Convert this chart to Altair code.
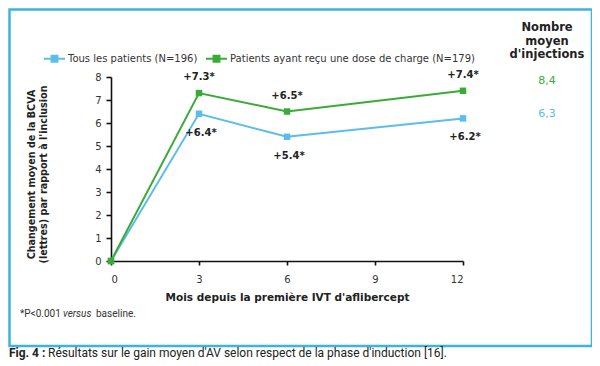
import altair as alt
import pandas as pd

# ---------------- data ----------------
months = [0, 3, 6, 12]
series_names = ["Tous les patients (N=196)",
                "Patients ayant reçu une dose de charge (N=179)"]
tous_values = [0, 6.4, 5.4, 6.2]
charge_values = [0, 7.3, 6.5, 7.4]
tous_labels = ["", "+6.4*", "+5.4*", "+6.2*"]
charge_labels = ["", "+7.3*", "+6.5*", "+7.4*"]
series_colors = ["#5bbde9", "#3aab36"]
injection_header = ["Nombre", "moyen", "d'injections"]
injection_tous = "6,3"
injection_charge = "8,4"
x_ticks = [0, 3, 6, 9, 12]
y_ticks = [0, 1, 2, 3, 4, 5, 6, 7, 8]
x_title = "Mois depuis la première IVT d'aflibercept"
y_title = ["Changement moyen de la BCVA", "(lettres) par rapport à l'inclusion"]
footnote_parts = ["*P<0.001", "versus", "baseline."]
caption_bold = "Fig. 4 :"
caption_text = "Résultats sur le gain moyen d'AV selon respect de la phase d'induction [16]."

rows = []
for m, v, lab in zip(months, tous_values, tous_labels):
    rows.append({"month": m, "value": v, "label": lab, "series": series_names[0]})
for m, v, lab in zip(months, charge_values, charge_labels):
    rows.append({"month": m, "value": v, "label": lab, "series": series_names[1]})
df = pd.DataFrame(rows)

FONT = "DejaVu Sans"
CAPFONT = "Roboto"
TXT = "#222222"
one = pd.DataFrame({"k": [0]})

W, H = 352, 184

x_enc = alt.X("month:Q",
              scale=alt.Scale(domain=[0, 12], nice=False, zero=False),
              axis=alt.Axis(values=x_ticks, title=x_title, grid=False,
                            labelOverlap=False, tickCount=12,
                            domainColor="#111", domainWidth=1.6,
                            tickColor="#111", tickWidth=1.6, tickSize=4,
                            labelFont=FONT, labelFontSize=10, labelColor="#333",
                            labelPadding=9, titleFont=FONT, titleFontSize=10.5,
                            titleFontWeight="bold", titleColor=TXT, titlePadding=8))
y_enc = alt.Y("value:Q",
              scale=alt.Scale(domain=[0, 8], nice=False),
              axis=alt.Axis(values=y_ticks, title=y_title, grid=False,
                            labelOverlap=False, tickCount=9,
                            domainColor="#111", domainWidth=1.6,
                            tickColor="#111", tickWidth=1.6, tickSize=5,
                            labelFont=FONT, labelFontSize=10, labelColor="#333",
                            labelPadding=5, titleFont=FONT, titleFontSize=9.6,
                            titleFontWeight="bold", titleColor=TXT,
                            titlePadding=46, titleLineHeight=12, titleY=97))

color_enc = alt.Color("series:N", title=None,
                      scale=alt.Scale(domain=series_names, range=series_colors),
                      legend=alt.Legend(orient="none", legendX=-68, legendY=-30,
                                        direction="horizontal",
                                        symbolType="M-1,0H1M-0.28,-0.28H0.28V0.28H-0.28Z",
                                        symbolSize=441, symbolStrokeWidth=2,
                                        labelFont=FONT, labelFontSize=10,
                                        labelColor="#333", labelOffset=2,
                                        labelLimit=500, columnPadding=4))

base = alt.Chart(df).encode(x=x_enc, y=y_enc)
lines = base.mark_line(strokeWidth=2).encode(color=color_enc)
points = base.mark_point(shape="square", filled=True, size=42, opacity=1).encode(color=color_enc)

lab_green = base.transform_filter(
    alt.datum.series == series_names[1]).mark_text(
    font=FONT, fontSize=10, fontWeight="bold", color=TXT, dy=-16,
    baseline="middle").encode(text="label:N")
lab_blue = base.transform_filter(
    alt.datum.series == series_names[0]).mark_text(
    font=FONT, fontSize=10, fontWeight="bold", color=TXT, dy=19, dx=2,
    baseline="middle").encode(text="label:N")

header = alt.Chart(one).mark_text(
    font=FONT, fontSize=11.5, fontWeight="bold", color=TXT, align="center",
    baseline="top", lineHeight=13.5).encode(
    x=alt.value(436), y=alt.value(-55), text=alt.value(injection_header))
inj_g = alt.Chart(one).mark_text(
    font=FONT, fontSize=11, color=series_colors[1], align="center",
    baseline="middle").encode(x=alt.value(436), y=alt.value(4),
                              text=alt.value(injection_charge))
inj_b = alt.Chart(one).mark_text(
    font=FONT, fontSize=11, color=series_colors[0], align="center",
    baseline="middle").encode(x=alt.value(436), y=alt.value(37),
                              text=alt.value(injection_tous))

fn1 = alt.Chart(one).mark_text(font=CAPFONT, fontSize=10, color="#333", align="left",
                               baseline="middle").encode(
    x=alt.value(-91), y=alt.value(237), text=alt.value(footnote_parts[0]))
fn2 = alt.Chart(one).mark_text(font=CAPFONT, fontSize=10, color="#333", align="left",
                               fontStyle="italic", baseline="middle").encode(
    x=alt.value(-48), y=alt.value(237), text=alt.value(footnote_parts[1]))
fn3 = alt.Chart(one).mark_text(font=CAPFONT, fontSize=10, color="#333", align="left",
                               baseline="middle").encode(
    x=alt.value(-15), y=alt.value(237), text=alt.value(footnote_parts[2]))

cap1 = alt.Chart(one).mark_text(font=CAPFONT, fontSize=12, fontWeight="bold", color=TXT,
                                align="left", baseline="middle").encode(
    x=alt.value(-102), y=alt.value(276), text=alt.value(caption_bold))
cap2 = alt.Chart(one).mark_text(font=CAPFONT, fontSize=12, color=TXT,
                                align="left", baseline="middle").encode(
    x=alt.value(-63), y=alt.value(276), text=alt.value(caption_text))

border = alt.Chart(one).mark_rect(fill="transparent", stroke="#3cb4dc",
                                  strokeWidth=2.5).encode(
    x=alt.value(-101.5), x2=alt.value(481), y=alt.value(-67.5), y2=alt.value(269))

chart = alt.layer(border, lines, points, lab_green, lab_blue, header, inj_g, inj_b,
                  fn1, fn2, fn3, cap1, cap2).properties(
    width=W, height=H,
    autosize=alt.AutoSizeParams(type="none"),
    padding={"left": 103, "top": 69, "right": 129, "bottom": 101},
    background="white",
).configure_view(stroke=None)

chart.save("out.html", embed_options={"renderer": "svg", "actions": False})
